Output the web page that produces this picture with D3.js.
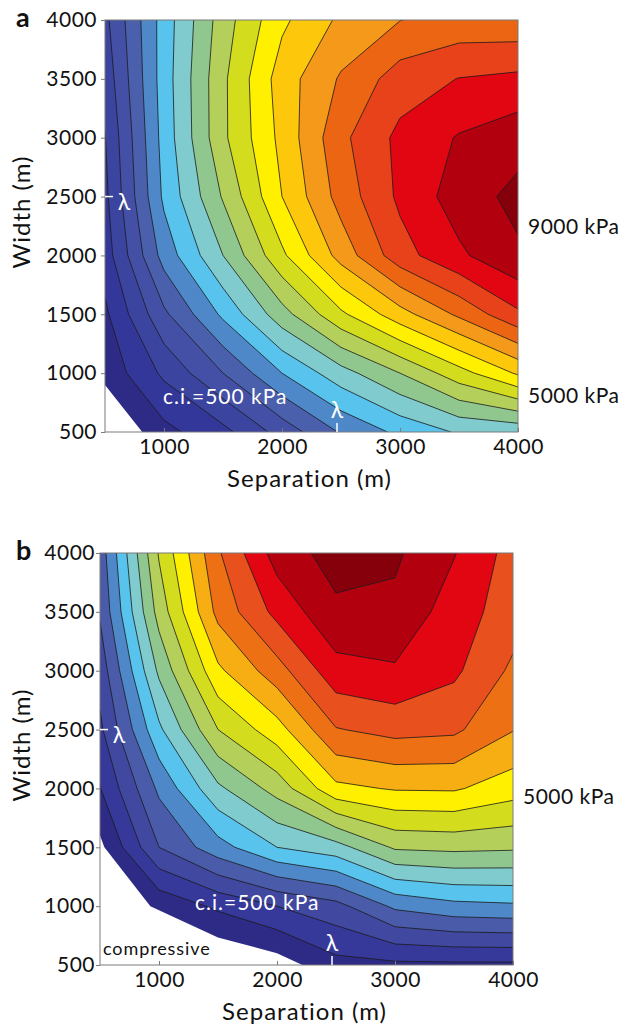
<!DOCTYPE html>
<html><head><meta charset="utf-8">
<script src="https://cdn.jsdelivr.net/npm/d3@7"></script>
<style>body{margin:0;background:#fff;} text{font-family:Lato,"Open Sans",sans-serif;}</style>
</head><body><svg id="chart" width="637" height="1024"></svg>
<script>
// ---- data ----
const separation = [500, 1000, 1500, 2000, 2500, 3000, 3500, 4000];   // grid columns (m)
const widthRows  = [4000, 3500, 3000, 2500, 2000, 1500, 1000, 500];   // grid rows, top to bottom (m)
const xTickValues = [1000, 2000, 3000, 4000];
const yTickValues = [500, 1000, 1500, 2000, 2500, 3000, 3500, 4000];

// stress (kPa), panel a, rows = widthRows, columns = separation
const stressA = [
  [1370, 3230, 4760, 5900, 6600, 6990, 7170, 7140],
  [1180, 3250, 4900, 6250, 7060, 7740, 8015, 8117],
  [ 980, 3200, 4900, 6150, 7380, 8130, 8540, 8800],
  [ 880, 3100, 4550, 6000, 7200, 8100, 8742, 9145],
  [ 745, 2700, 4000, 5400, 6700, 7800, 8410, 8920],
  [ 400, 1900, 3100, 4300, 5400, 6300, 7100, 7910],
  [ 150, 1100, 2000, 3000, 3800, 4500, 5300, 6070],
  [-600,  350,  850, 1700, 2550, 3120, 3560, 3640]
];
// stress (kPa), panel b
const stressB = [
  [ 1710, 4550, 6435, 7718, 8206, 8080, 7530, 6800],
  [ 1560, 4200, 6150, 7150, 7903, 7890, 7250, 6750],
  [ 1200, 3600, 5400, 6290, 7319, 7437, 7100, 6400],
  [  900, 2900, 4500, 5290, 6470, 6670, 6600, 6023],
  [  480, 2100, 3400, 4200, 5377, 5544, 5560, 5233],
  [ -120, 1500, 2300, 3000, 3300, 4073, 4130, 4083],
  [ -700,  120,  600, 1000, 1330, 2100, 2350, 2417],
  [-2400,-1600, -530, -250,  330,  390,  400,  400]
];
const levelsA = [0,500,1000,1500,2000,2500,3000,3500,4000,4500,5000,5500,6000,6500,7000,7500,8000,8500,9000];
const levelsB = [0,500,1000,1500,2000,2500,3000,3500,4000,4500,5000,5500,6000,6500,7000,7500,8000];
const colorsA = ["#2d2b86","#34379a","#3b449f","#4450a5","#4a60ad","#4f88c8","#58c3ec","#80cbcd","#8fc78f","#b4d05b","#d4dc1e","#fff000","#fdc70c","#f4991a","#ec6512","#e7421a","#e20613","#b3000f","#86000c"];
const colorsB = ["#2d2b86","#36399a","#4048a0","#4a5ba9","#4f88c8","#58c3ec","#80cbcd","#8fc78f","#b4d05b","#d4dc1e","#fff000","#f7ae12","#ed7014","#e8501e","#e20613","#b3000f","#86000c"];

const svg = d3.select("#chart");

function drawPanel(cfg) {
  const g = svg.append("g");
  const x = d3.scaleLinear().domain([500, 4000]).range([cfg.left, cfg.right]);
  const y = d3.scaleLinear().domain([500, 4000]).range([cfg.bottom, cfg.top]);
  const n = separation.length, m = widthRows.length;
  const gx = d3.scaleLinear().domain([0.5, n - 0.5]).range([separation[0], separation[n - 1]]);
  const gy = d3.scaleLinear().domain([0.5, m - 0.5]).range([widthRows[0], widthRows[m - 1]]);
  const values = cfg.grid.flat();
  const contours = d3.contours().size([n, m]).thresholds(cfg.levels)(values);
  const proj = d3.geoTransform({ point(px, py) { this.stream.point(x(gx(px)), y(gy(py))); } });
  const path = d3.geoPath(proj);

  const clipId = "clip-" + cfg.id;
  svg.append("clipPath").attr("id", clipId).append("rect")
    .attr("x", cfg.left).attr("y", cfg.top)
    .attr("width", cfg.right - cfg.left).attr("height", cfg.bottom - cfg.top);

  g.append("g").attr("clip-path", `url(#${clipId})`)
    .selectAll("path").data(contours).join("path")
    .attr("d", path)
    .attr("fill", (d, i) => cfg.colors[i])
    .attr("stroke", d => d.value > 0 ? "#1b1b1b" : "none")
    .attr("stroke-width", 0.8)
    .attr("stroke-linejoin", "round");

  // frame
  g.append("rect").attr("x", cfg.left).attr("y", cfg.top)
    .attr("width", cfg.right - cfg.left).attr("height", cfg.bottom - cfg.top)
    .attr("fill", "none").attr("stroke", "#7a7a7a").attr("stroke-width", 1);

  // axes
  const xAxis = d3.axisBottom(x).tickValues(xTickValues).tickSize(-4).tickPadding(7).tickFormat(d3.format("d"));
  const yAxis = d3.axisLeft(y).tickValues(yTickValues).tickSize(4).tickPadding(cfg.ypad).tickFormat(d3.format("d"));
  const xa = g.append("g").attr("transform", `translate(0,${cfg.bottom})`).call(xAxis);
  const ya = g.append("g").attr("transform", `translate(${cfg.left},0)`).call(yAxis);
  [xa, ya].forEach(a => {
    a.select(".domain").remove();
    a.selectAll(".tick line").attr("stroke", "#7a7a7a");
    a.selectAll("text").attr("font-size", 21).attr("letter-spacing", 0.5).attr("fill", "#111").attr("font-family", "Lato, sans-serif");
  });
  xa.selectAll("text").attr("dy", "0.71em");

  g.append("text").attr("x", (cfg.left + cfg.right) / 2 - 2).attr("y", cfg.bottom + 55)
    .attr("text-anchor", "middle").attr("font-size", 24).attr("letter-spacing", 1).attr("fill", "#111").text("Separation (m)");
  g.append("text").attr("transform", `translate(${cfg.left - cfg.ytx},${cfg.ytitle}) rotate(-90)`)
    .attr("text-anchor", "middle").attr("font-size", 24).attr("letter-spacing", 1).attr("fill", "#111").text("Width (m)");
  g.append("text").attr("x", 16).attr("y", cfg.top + 7)
    .attr("font-size", 27).attr("font-weight", "bold").attr("fill", "#111").text(cfg.id);

  // right labels
  cfg.rightLabels.forEach(l => {
    g.append("text").attr("x", cfg.right + 10).attr("y", l.y).attr("dy", "0.35em")
      .attr("font-size", 21).attr("letter-spacing", 0.5).attr("fill", "#111").text(l.t);
  });
  // contour interval
  g.append("text").attr("x", cfg.ci[0]).attr("y", cfg.ci[1]).attr("dy", "0.35em")
    .attr("font-size", 21).attr("letter-spacing", 1).attr("fill", "#fff").text("c.i.=500 kPa");

  // lambda markers at 2500 m
  g.append("line").attr("x1", cfg.left).attr("x2", cfg.left + 8)
    .attr("y1", y(2500)).attr("y2", y(2500)).attr("stroke", "#fff").attr("stroke-width", 1.5);
  g.append("text").attr("x", cfg.left + 19).attr("y", y(2500) + 5).attr("dy", "0.35em")
    .attr("text-anchor", "middle").attr("font-size", 23).attr("fill", "#fff").text("λ");
  g.append("line").attr("x1", x(2500) - 4).attr("x2", x(2500) - 4)
    .attr("y1", cfg.bottom - 9).attr("y2", cfg.bottom).attr("stroke", "#fff").attr("stroke-width", 1.5);
  g.append("text").attr("x", x(2500) - 4).attr("y", cfg.bottom - 22).attr("dy", "0.35em")
    .attr("text-anchor", "middle").attr("font-size", 23).attr("fill", "#fff").text("λ");

  if (cfg.compressive) {
    g.append("text").attr("x", cfg.left + 3).attr("y", cfg.bottom - 16).attr("dy", "0.35em")
      .attr("font-size", 18).attr("letter-spacing", 0.9).attr("fill", "#111").text("compressive");
  }
}

drawPanel({ id: "a", left: 105, right: 518, top: 20, bottom: 432, grid: stressA, levels: levelsA, colors: colorsA,
  ypad: 4, ytx: 75, ytitle: 212, rightLabels: [{ y: 227, t: "9000 kPa" }, { y: 396, t: "5000 kPa" }], ci: [163, 397], compressive: false });
drawPanel({ id: "b", left: 100, right: 513, top: 553, bottom: 965, grid: stressB, levels: levelsB, colors: colorsB,
  ypad: 1, ytx: 70, ytitle: 745, rightLabels: [{ y: 797, t: "5000 kPa" }], ci: [195, 903], compressive: true });
</script></body></html>
